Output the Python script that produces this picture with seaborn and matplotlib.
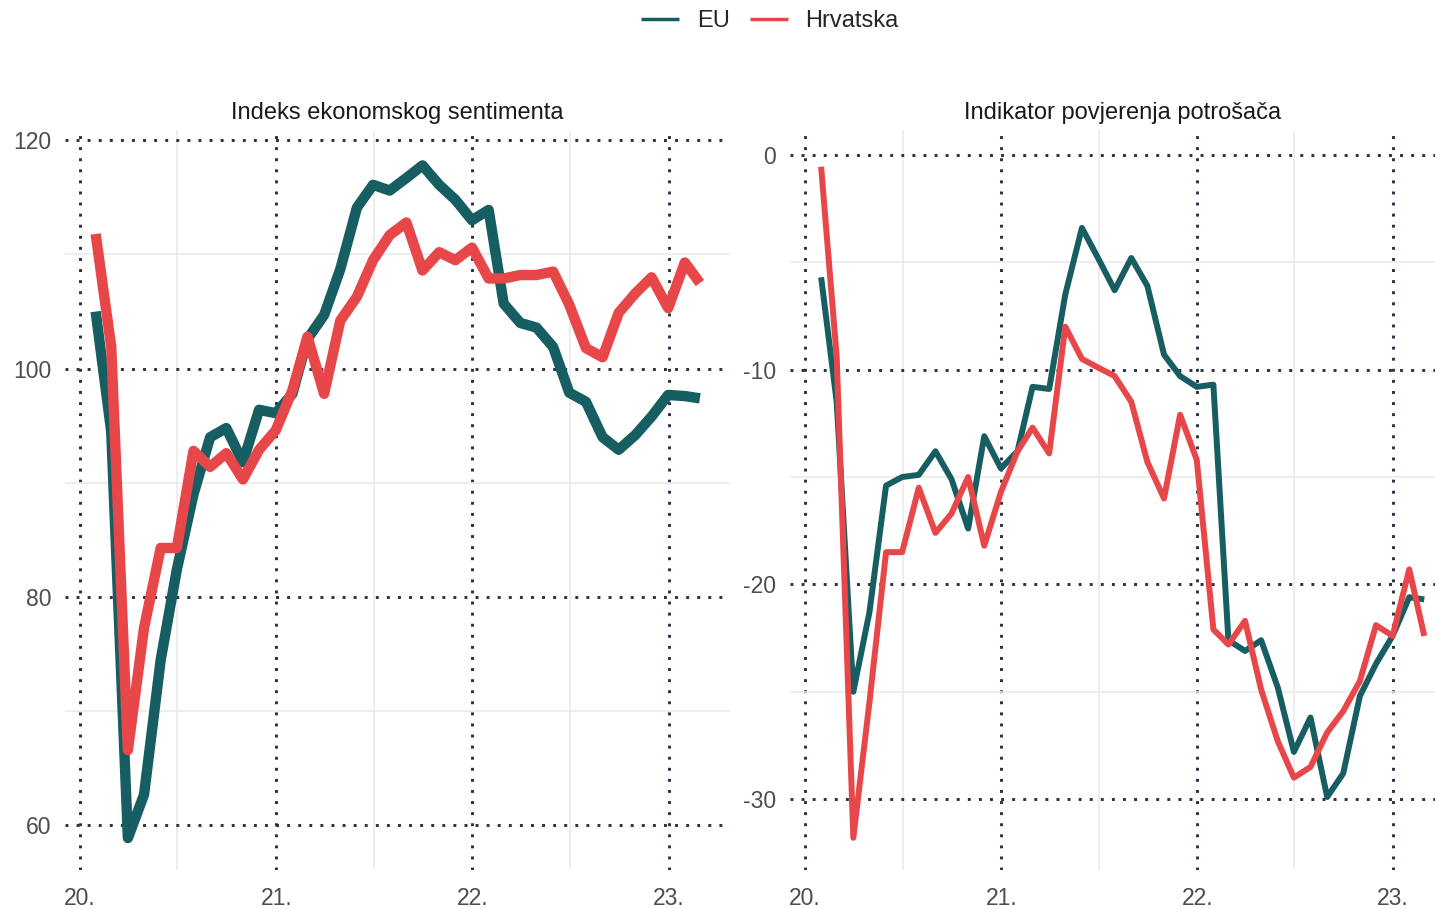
import numpy as np
import pandas as pd
import matplotlib
matplotlib.use("Agg")
import matplotlib.pyplot as plt
import matplotlib.dates as mdates
import seaborn as sns

# ---- data (monthly, Jan 2020 - Feb 2023) ----
series_names = ["EU", "Hrvatska"]
esi_eu = [105.0, 94.5, 58.9, 62.7, 74.5, 82.4, 89.0, 94.0, 94.8, 91.8, 96.4, 96.1,
          97.8, 102.6, 104.7, 108.7, 114.1, 116.1, 115.6, 116.7, 117.8, 116.1, 114.8, 113.0,
          113.9, 105.7, 104.0, 103.6, 101.9, 97.9, 97.1, 94.0, 92.9, 94.2, 95.8, 97.7,
          97.6, 97.4]
esi_hr = [111.8, 101.9, 66.6, 77.3, 84.3, 84.3, 92.8, 91.4, 92.6, 90.3, 92.9, 94.6,
          98.1, 102.8, 97.8, 104.2, 106.3, 109.5, 111.7, 112.8, 108.6, 110.2, 109.5, 110.6,
          107.9, 107.9, 108.2, 108.2, 108.5, 105.6, 101.8, 101.0, 104.9, 106.6, 108.0, 105.3,
          109.3, 107.5]
cci_eu = [-5.7, -11.5, -25.0, -21.3, -15.4, -15.0, -14.9, -13.8, -15.1, -17.4, -13.1, -14.6,
          -13.8, -10.8, -10.9, -6.5, -3.4, -4.8, -6.3, -4.8, -6.1, -9.3, -10.3, -10.8,
          -10.7, -22.6, -23.1, -22.6, -24.8, -27.8, -26.2, -29.9, -28.8, -25.2, -23.7, -22.4,
          -20.6, -20.7]
cci_hr = [-0.55, -9.4, -31.8, -25.5, -18.5, -18.5, -15.5, -17.6, -16.7, -15.0, -18.2, -15.7,
          -13.8, -12.7, -13.9, -8.0, -9.5, -9.9, -10.3, -11.5, -14.3, -16.0, -12.1, -14.2,
          -22.1, -22.8, -21.7, -24.9, -27.3, -29.0, -28.5, -26.9, -25.9, -24.5, -21.9, -22.4,
          -19.3, -22.4]
panel_titles = ["Indeks ekonomskog sentimenta", "Indikator povjerenja potrošača"]

dates = pd.date_range("2020-02-01", periods=len(esi_eu), freq="MS") - pd.Timedelta(days=1)

def long_df(eu, hr):
    return pd.DataFrame({
        "datum": list(dates) * 2,
        "vrijednost": list(eu) + list(hr),
        "serija": [series_names[0]] * len(eu) + [series_names[1]] * len(hr),
    })

df_esi = long_df(esi_eu, esi_hr)
df_cci = long_df(cci_eu, cci_hr)

sns.set_theme(style="white")
plt.rcParams["font.family"] = ["Liberation Sans", "DejaVu Sans"]
plt.rcParams["axes.unicode_minus"] = False

palette = {"EU": "#175E63", "Hrvatska": "#E84749"}
W, H = 1435, 909
fig = plt.figure(figsize=(W / 100, H / 100), dpi=100)

def box(x0, x1, y0, y1):
    return [x0 / W, 1 - y1 / H, (x1 - x0) / W, (y1 - y0) / H]

ax1 = fig.add_axes(box(65, 730, 130, 870))
ax2 = fig.add_axes(box(790, 1435, 130, 870))

configs = [
    (ax1, df_esi, 7.5, (56.1, 120.9), [60, 80, 100, 120], [70, 90, 110],
     (pd.Timestamp("2019-12-05"), pd.Timestamp("2023-04-25")), 0.5),
    (ax2, df_cci, 4.3, (-33.3, 1.16), [-30, -20, -10, 0], [-25, -15, -5],
     (pd.Timestamp("2019-12-04"), pd.Timestamp("2023-03-20")), (1123 - 790) / 645),
]

grid_dot = "#2B2F3E"
for (ax, df, lw, ylim, ymaj, ymin, xlim, tx), title in zip(configs, panel_titles):
    sns.lineplot(data=df, x="datum", y="vrijednost", hue="serija", palette=palette,
                 hue_order=series_names, linewidth=lw, ax=ax, legend=False)
    for ln in ax.get_lines():
        ln.set_solid_joinstyle("round")
        ln.set_solid_capstyle("butt")
    ax.set_ylim(*ylim)
    ax.set_xlim(*xlim)
    ax.set_yticks(ymaj)
    ax.set_yticks(ymin, minor=True)
    ax.xaxis.set_major_locator(mdates.YearLocator())
    ax.xaxis.set_minor_locator(mdates.MonthLocator(bymonth=7))
    ax.xaxis.set_major_formatter(mdates.DateFormatter("%y."))
    ax.grid(which="minor", color="#EBEBEB", linewidth=1.2, linestyle="-")
    ax.grid(which="major", color=grid_dot, linewidth=2.1, linestyle=(0, (1, 2.8)),
            dash_capstyle="butt")
    ax.set_axisbelow(True)
    for s in ax.spines.values():
        s.set_visible(False)
    ax.tick_params(which="both", length=0)
    ax.tick_params(axis="y", labelsize=16.5, labelcolor="#4D4D4D", pad=10)
    ax.tick_params(axis="x", labelsize=16.5, labelcolor="#4D4D4D", pad=12)
    ax.set_xlabel("")
    ax.set_ylabel("")
    ax.set_title(title, fontsize=17, color="#1A1A1A", pad=8, x=tx)

handles = ax1.get_lines()[:2]
fig.legend(handles, series_names, loc="center", bbox_to_anchor=(770 / W, 1 - 21 / H),
           ncol=2, frameon=False, fontsize=17, handlelength=1.6, handletextpad=0.75,
           columnspacing=0.85)
for lh in fig.legends[0].get_lines():
    lh.set_linewidth(2.5)

fig.savefig("out.png", dpi=100)
